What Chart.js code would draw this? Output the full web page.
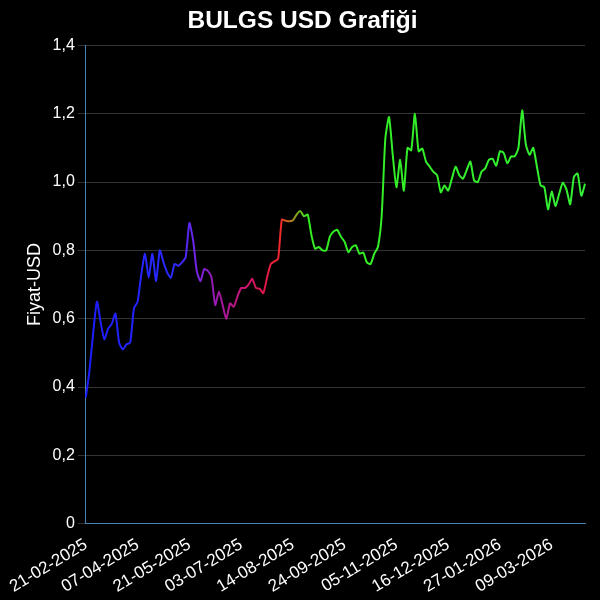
<!DOCTYPE html>
<html>
<head>
<meta charset="utf-8">
<script src="https://cdn.jsdelivr.net/npm/chart.js@4.4.1/dist/chart.umd.min.js"></script>
<style>
  html, body { margin: 0; padding: 0; background: #000; }
  #grafik { display: block; }
</style>
</head>
<body>
<canvas id="grafik" width="600" height="600"></canvas>
<script>
// tarihler (her 14. tarih eksende gösteriliyor)
const tarihler = [
  '21-02-2025','24-02-2025','27-02-2025','03-03-2025','06-03-2025','10-03-2025','13-03-2025','17-03-2025','20-03-2025','24-03-2025','27-03-2025','31-03-2025','02-04-2025','04-04-2025',
  '07-04-2025','10-04-2025','14-04-2025','17-04-2025','21-04-2025','24-04-2025','28-04-2025','01-05-2025','05-05-2025','08-05-2025','12-05-2025','14-05-2025','16-05-2025','19-05-2025',
  '21-05-2025','24-05-2025','27-05-2025','30-05-2025','02-06-2025','05-06-2025','09-06-2025','12-06-2025','16-06-2025','19-06-2025','23-06-2025','26-06-2025','29-06-2025','01-07-2025',
  '03-07-2025','06-07-2025','09-07-2025','12-07-2025','15-07-2025','18-07-2025','21-07-2025','24-07-2025','27-07-2025','30-07-2025','02-08-2025','05-08-2025','08-08-2025','11-08-2025',
  '14-08-2025','17-08-2025','20-08-2025','23-08-2025','26-08-2025','29-08-2025','01-09-2025','04-09-2025','07-09-2025','10-09-2025','13-09-2025','16-09-2025','19-09-2025','22-09-2025',
  '24-09-2025','27-09-2025','30-09-2025','03-10-2025','06-10-2025','09-10-2025','12-10-2025','15-10-2025','18-10-2025','21-10-2025','24-10-2025','27-10-2025','30-10-2025','02-11-2025',
  '05-11-2025','08-11-2025','11-11-2025','14-11-2025','17-11-2025','20-11-2025','23-11-2025','26-11-2025','29-11-2025','02-12-2025','05-12-2025','08-12-2025','11-12-2025','14-12-2025',
  '16-12-2025','19-12-2025','22-12-2025','25-12-2025','28-12-2025','31-12-2025','03-01-2026','06-01-2026','09-01-2026','12-01-2026','15-01-2026','18-01-2026','21-01-2026','24-01-2026',
  '27-01-2026','30-01-2026','02-02-2026','05-02-2026','08-02-2026','11-02-2026','14-02-2026','17-02-2026','20-02-2026','23-02-2026','26-02-2026','01-03-2026','04-03-2026','07-03-2026',
  '09-03-2026','12-03-2026','15-03-2026','18-03-2026','21-03-2026','24-03-2026','27-03-2026','30-03-2026','02-04-2026','05-04-2026'
];

// fiyatlar (USD)
const fiyatlar = [
  0.37, 0.45, 0.56, 0.65, 0.59, 0.54, 0.57, 0.585, 0.615, 0.53, 0.51, 0.525, 0.53, 0.63,
  0.65, 0.73, 0.79, 0.72, 0.79, 0.71, 0.80, 0.765, 0.735, 0.72, 0.76, 0.755, 0.765, 0.78,
  0.88, 0.83, 0.74, 0.71, 0.745, 0.74, 0.72, 0.64, 0.68, 0.64, 0.60, 0.645, 0.635, 0.665,
  0.69, 0.69, 0.70, 0.717, 0.69, 0.688, 0.675, 0.72, 0.76, 0.768, 0.775, 0.89, 0.887, 0.885,
  0.888, 0.905, 0.915, 0.90, 0.905, 0.845, 0.805, 0.81, 0.80, 0.80, 0.84, 0.855, 0.86, 0.84,
  0.825, 0.795, 0.81, 0.815, 0.79, 0.794, 0.765, 0.76, 0.79, 0.81, 0.90, 1.127, 1.19, 1.08,
  0.985, 1.065, 0.975, 1.10, 1.093, 1.20, 1.09, 1.098, 1.06, 1.045, 1.03, 1.02, 0.97, 0.99,
  0.975, 1.01, 1.045, 1.02, 1.01, 1.035, 1.06, 1.005, 1.0, 1.03, 1.04, 1.065, 1.068, 1.048,
  1.09, 1.085, 1.055, 1.075, 1.075, 1.10, 1.21, 1.11, 1.08, 1.10, 1.045, 0.99, 0.985, 0.92,
  0.972, 0.93, 0.965, 0.998, 0.978, 0.935, 1.015, 1.025, 0.96, 0.995
];

const yTikler = [0, 0.2, 0.4, 0.6, 0.8, 1.0, 1.2, 1.4];
const etiketAdimi = 14;

// renk geçişi: mavi -> mor -> kırmızı -> yeşil
const renkDuraklari = [
  [0.00, '#1c1cff'],
  [0.18, '#2a2aff'],
  [0.22, '#7424e8'],
  [0.27, '#a0189e'],
  [0.31, '#c8147a'],
  [0.36, '#e01848'],
  [0.39, '#f02a2a'],
  [0.41, '#b87820'],
  [0.43, '#6cc020'],
  [0.445, '#33ee22'],
  [1.00, '#33f033']
];

function cizgiRengi(context) {
  const chart = context.chart;
  const alan = chart.chartArea;
  if (!alan) return '#33f033';
  const g = chart.ctx.createLinearGradient(alan.left, 0, alan.right, 0);
  renkDuraklari.forEach(([pos, renk]) => g.addColorStop(pos, renk));
  return g;
}

const yaziTipi = 'Arial, "Liberation Sans", sans-serif';

const config = {
  type: 'line',
  data: {
    labels: tarihler,
    datasets: [{
      label: 'BULGS',
      data: fiyatlar,
      borderColor: cizgiRengi,
      borderWidth: 2,
      pointRadius: 0,
      tension: 0.2,
      fill: false
    }]
  },
  options: {
    responsive: false,
    animation: false,
    layout: { padding: { left: 20, right: 15, bottom: 0 } },
    plugins: {
      legend: { display: false },
      tooltip: { enabled: false },
      title: {
        display: true,
        text: 'BULGS USD Grafiği',
        color: '#fff',
        font: { family: yaziTipi, size: 24.5, weight: 'bold' },
        padding: { top: 7, bottom: 9 }
      }
    },
    scales: {
      x: {
        grid: { display: false },
        border: { color: '#4682b4', width: 1 },
        ticks: {
          color: '#fff',
          font: { family: yaziTipi, size: 17 },
          autoSkip: false,
          minRotation: 31,
          maxRotation: 31,
          callback: function (value, index) {
            return index % etiketAdimi === 0 ? tarihler[index] : null;
          }
        }
      },
      y: {
        min: 0,
        max: 1.4,
        afterBuildTicks: (axis) => { axis.ticks = yTikler.map(v => ({ value: v })); },
        grid: { color: '#333', tickLength: 8 },
        border: { color: '#4682b4', width: 1 },
        title: {
          display: true,
          text: 'Fiyat-USD',
          color: '#fff',
          font: { family: yaziTipi, size: 18 }
        },
        ticks: {
          color: '#fff',
          font: { family: yaziTipi, size: 16 },
          callback: (v) => v === 0 ? '0' : v.toFixed(1).replace('.', ',')
        }
      }
    }
  }
};

new Chart(document.getElementById('grafik'), config);
</script>
</body>
</html>
